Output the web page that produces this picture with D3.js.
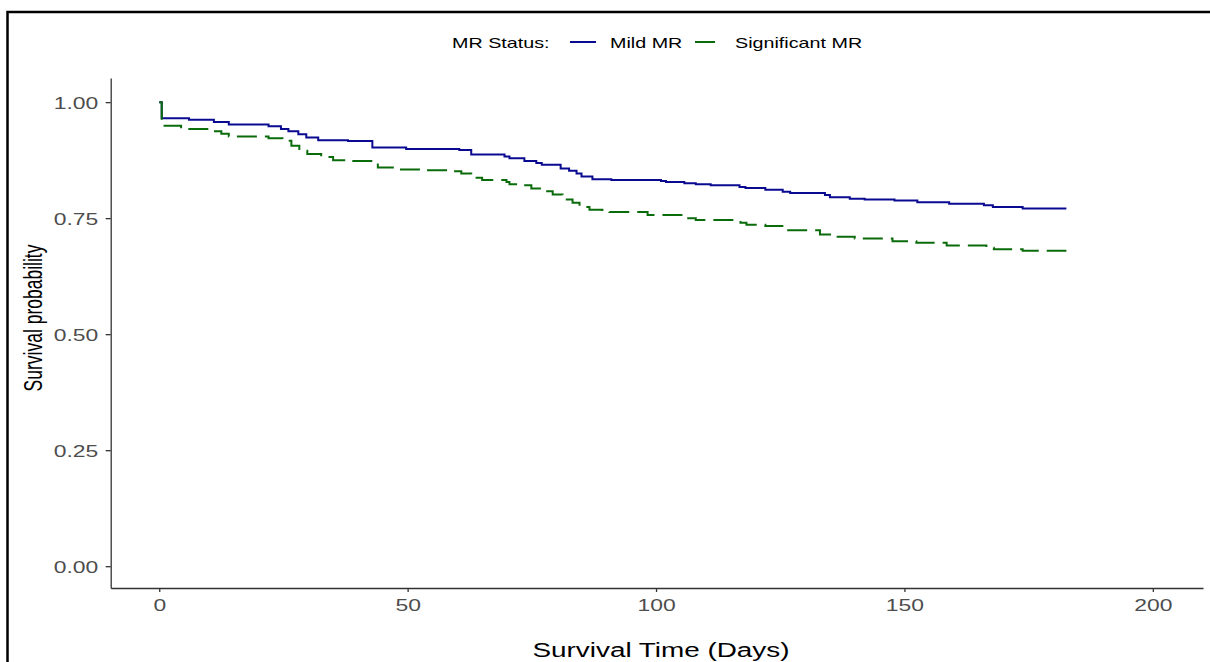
<!DOCTYPE html>
<html>
<head>
<meta charset="utf-8">
<script src="https://cdn.jsdelivr.net/npm/d3@7"></script>
<style>
  body { margin: 0; background: #fff; }
  text { font-family: 'Liberation Sans', Arial, sans-serif; }
</style>
</head>
<body>
<div id="chart"></div>
<script>
// Kaplan-Meier estimates: [day, survival]
const mildMR = [
  [0, 1], [0.5, 0.965], [6, 0.962], [11, 0.957], [14, 0.952], [22, 0.948], [24.5, 0.942],
  [26, 0.937], [28, 0.931], [29.6, 0.924], [32, 0.918], [38, 0.916], [42.9, 0.902],
  [49.7, 0.899], [60.4, 0.897], [62.8, 0.887], [69.5, 0.883], [70.5, 0.879], [73.5, 0.873],
  [75.9, 0.869], [77, 0.865], [80.8, 0.857], [82.5, 0.852], [84, 0.846], [85, 0.840],
  [87.2, 0.834], [91, 0.832], [101, 0.830], [102, 0.828], [105.7, 0.825], [108, 0.823],
  [111, 0.821], [116.8, 0.817], [118, 0.815], [122, 0.811], [125.5, 0.807], [127, 0.804],
  [134, 0.800], [135, 0.795], [139, 0.792], [142, 0.790], [148, 0.788], [152.6, 0.784],
  [159, 0.781], [166, 0.778], [167.8, 0.774], [173.8, 0.771], [182.6, 0.771],
];

const significantMR = [
  [0, 1], [0.5, 0.949], [4.4, 0.942], [10.7, 0.937], [12.5, 0.932], [14, 0.926], [22, 0.922],
  [24.8, 0.917], [26.6, 0.906], [28.2, 0.895], [29.8, 0.888], [32.6, 0.882], [35, 0.875],
  [37.6, 0.873], [43, 0.868], [44, 0.859], [48, 0.855], [52.8, 0.853], [58.8, 0.851],
  [60.8, 0.846], [62.8, 0.837], [65, 0.832], [69.9, 0.828], [70.5, 0.823], [72.9, 0.821],
  [74.9, 0.814], [77.1, 0.808], [79.2, 0.801], [81.2, 0.790], [83.2, 0.783], [84.6, 0.774],
  [86.6, 0.768], [89.2, 0.765], [90.6, 0.763], [98.3, 0.757], [105.7, 0.750], [108, 0.746],
  [117, 0.740], [118.2, 0.736], [122, 0.733], [126.2, 0.724], [133, 0.715], [136, 0.710],
  [140, 0.706], [147.6, 0.700], [152.4, 0.697], [158.5, 0.691], [166.5, 0.686], [168, 0.683],
  [173.8, 0.680], [182.6, 0.680],
];

const groups = ['Mild MR', 'Significant MR'];
const xTicks = [0, 50, 100, 150, 200];
const yTicks = [0, 0.25, 0.5, 0.75, 1];

const width = 1210;
const height = 662;
const stretch = 1.43; // the picture is stretched sideways

const colors = { 'Mild MR': '#0a0a91', 'Significant MR': '#0a6b0a' };
const dashes = { 'Mild MR': null, 'Significant MR': '20,8' };

const svg = d3.select('#chart').append('svg')
  .attr('width', width)
  .attr('height', height);

// outer frame
svg.append('rect')
  .attr('x', 7.5)
  .attr('y', 12)
  .attr('width', 1400)
  .attr('height', 900)
  .attr('fill', 'none')
  .attr('stroke', '#000')
  .attr('stroke-width', 2.5);

const x = d3.scaleLinear().domain([-9.77, 210.1]).range([110.7, 1203]);
const y = d3.scaleLinear().domain([-0.047, 1.052]).range([588, 78]);

const xAxis = svg.append('g')
  .attr('transform', 'translate(0,588)')
  .call(d3.axisBottom(x).tickValues(xTicks).tickFormat(d3.format('d')).tickSize(4).tickSizeOuter(0));

const yAxis = svg.append('g')
  .attr('transform', 'translate(110.7,0)')
  .call(d3.axisLeft(y).tickValues(yTicks).tickFormat(d3.format('.2f')).tickSize(5).tickSizeOuter(0));

[xAxis, yAxis].forEach((ax) => {
  ax.select('.domain').attr('stroke', '#333').attr('stroke-width', 1.3);
  ax.selectAll('.tick line').attr('stroke', '#333').attr('stroke-width', 1.3);
  ax.selectAll('.tick text')
    .attr('fill', '#4d4d4d')
    .style('font-size', '16px');
});

xAxis.selectAll('.tick text')
  .attr('x', 0)
  .attr('y', 0)
  .attr('dy', 0)
  .attr('transform', `translate(0,22.5) scale(${stretch},1)`);

yAxis.selectAll('.tick text')
  .attr('x', 0)
  .attr('dy', 0)
  .attr('transform', `translate(-12.5,6.5) scale(${stretch},1)`);

// survival curves
const line = d3.line()
  .curve(d3.curveStepAfter)
  .x((d) => x(d[0]))
  .y((d) => y(d[1]));

[mildMR, significantMR].forEach((data, i) => {
  const g = groups[i];
  svg.append('path')
    .datum(data)
    .attr('fill', 'none')
    .attr('stroke', colors[g])
    .attr('stroke-width', 2)
    .attr('stroke-dasharray', dashes[g])
    .attr('d', line);
});

const addText = (tx, ty, str, size, anchor, extra = '') => svg.append('text')
  .attr('transform', `translate(${tx},${ty}) scale(${stretch},1)${extra}`)
  .attr('text-anchor', anchor)
  .style('font-size', `${size}px`)
  .attr('fill', '#000')
  .text(str);

// axis titles
addText(661, 657, 'Survival Time (Days)', 19.5, 'middle');
addText(41.5, 318, 'Survival probability', 17.5, 'middle', ' rotate(-90)');

// legend
addText(452, 48, 'MR Status:', 13.8, 'start');
const legendItems = [
  { name: groups[0], lineX: 570, textX: 610 },
  { name: groups[1], lineX: 695, textX: 735 },
];
legendItems.forEach((item) => {
  svg.append('line')
    .attr('x1', item.lineX)
    .attr('x2', item.lineX + 26)
    .attr('y1', 42)
    .attr('y2', 42)
    .attr('stroke', colors[item.name])
    .attr('stroke-width', 2)
    .attr('stroke-dasharray', dashes[item.name]);
  addText(item.textX, 48, item.name, 13.8, 'start');
});
</script>
</body>
</html>
